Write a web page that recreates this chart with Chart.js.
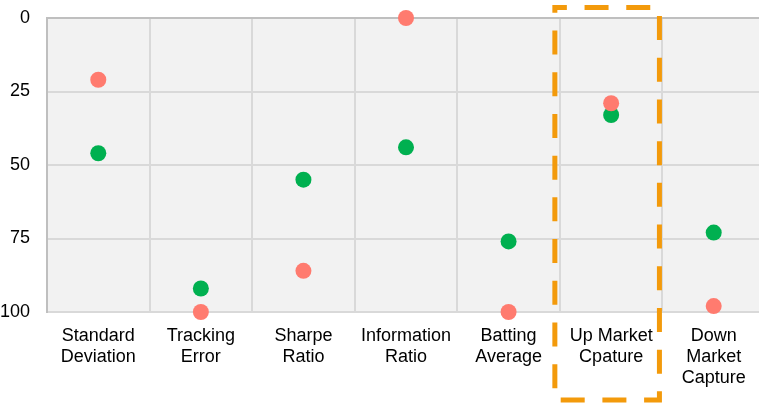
<!DOCTYPE html>
<html>
<head>
<meta charset="utf-8">
<script src="https://cdn.jsdelivr.net/npm/chart.js@4/dist/chart.umd.min.js"></script>
<style>
html,body{margin:0;padding:0;overflow:hidden;background:#fff;}
canvas{display:block;}
</style>
</head>
<body>
<canvas id="c" width="765" height="403"></canvas>
<script>
const categories = [
  ["Standard","Deviation"],
  ["Tracking","Error"],
  ["Sharpe","Ratio"],
  ["Information","Ratio"],
  ["Batting","Average"],
  ["Up Market","Cpature"],
  ["Down","Market","Capture"]
];
const redSeries   = [21, 100, 86, 0, 100, 29, 98];
const greenSeries = [46, 92, 55, 44, 76, 33, 73];
const yTicks = [0, 25, 50, 75, 100];
const highlightIndex = 5;

const bgPlugin = {
  id: 'bg',
  beforeDraw(chart) {
    const {ctx, chartArea: a} = chart;
    ctx.save();
    ctx.fillStyle = '#f2f2f2';
    ctx.fillRect(a.left, a.top, a.right - a.left, a.bottom - a.top);
    ctx.restore();
  }
};

const boxPlugin = {
  id: 'box',
  afterDraw(chart) {
    const {ctx, chartArea: a, scales: {x}} = chart;
    const c = x.getPixelForValue(highlightIndex);
    const half = (x.getPixelForValue(1) - x.getPixelForValue(0)) / 2;
    const left = c - half - 5;
    const right = c + half - 3;
    const top = a.top - 10.5;
    const bottom = chart.height - 3;
    ctx.save();
    ctx.strokeStyle = '#F39A0B';
    ctx.lineWidth = 5;
    ctx.setLineDash([24, 17.7]);
    ctx.lineDashOffset = 12;
    ctx.beginPath();
    ctx.moveTo(left, top);
    ctx.lineTo(right, top);
    ctx.lineTo(right, bottom);
    ctx.lineTo(left, bottom);
    ctx.closePath();
    ctx.stroke();
    ctx.restore();
  }
};

new Chart(document.getElementById('c'), {
  type: 'line',
  data: {
    labels: categories,
    datasets: [
      {
        label: 'Red',
        data: redSeries,
        showLine: false,
        pointRadius: 8,
        pointHoverRadius: 8,
        pointBackgroundColor: '#FF7B6F',
        pointBorderWidth: 0,
        borderColor: '#FF7B6F',
        clip: false
      },
      {
        label: 'Green',
        data: greenSeries,
        showLine: false,
        pointRadius: 8,
        pointHoverRadius: 8,
        pointBackgroundColor: '#00B050',
        pointBorderWidth: 0,
        borderColor: '#00B050',
        clip: false
      }
    ]
  },
  options: {
    responsive: false,
    animation: false,
    layout: { autoPadding: false, padding: { top: 18, bottom: 0, left: 0, right: 0 } },
    plugins: { legend: { display: false }, tooltip: { enabled: false } },
    scales: {
      x: {
        offset: true,
        afterFit(scale) { scale.paddingLeft = 0; scale.paddingRight = 0; scale.height = 91; },
        grid: { offset: true, color: '#d9d9d9', lineWidth: 2, drawTicks: false },
        border: { color: '#d9d9d9', width: 2 },
        ticks: {
          color: '#000',
          padding: 13,
          maxRotation: 0,
          autoSkip: false,
          font: { family: 'Liberation Sans, Arial, sans-serif', size: 18, lineHeight: 1.18 }
        }
      },
      y: {
        reverse: true,
        min: 0,
        max: 100,
        afterBuildTicks(scale) { scale.ticks = yTicks.map(v => ({ value: v })); },
        afterFit(scale) { scale.paddingTop = 0; scale.paddingBottom = 0; scale.width = 47; },
        grid: {
          color: ctx => (ctx.tick && ctx.tick.value === 0) ? '#bfbfbf' : '#d9d9d9',
          lineWidth: 2,
          drawTicks: false
        },
        border: { color: '#bfbfbf', width: 2 },
        ticks: {
          color: '#000',
          padding: 17,
          font: { family: 'Liberation Sans, Arial, sans-serif', size: 18 }
        }
      }
    }
  },
  plugins: [bgPlugin, boxPlugin]
});
</script>
</body>
</html>
